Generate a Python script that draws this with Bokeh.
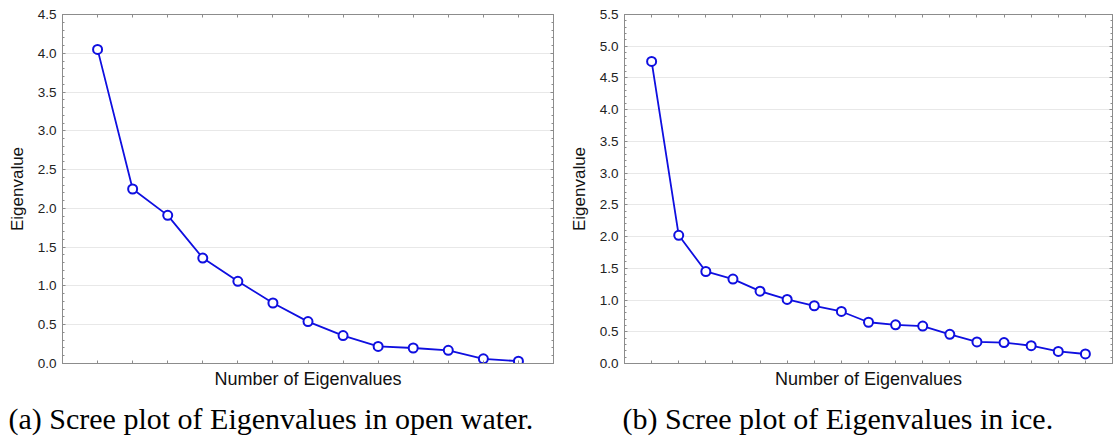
from bokeh.plotting import figure
from bokeh.layouts import row
from bokeh.models import (Range1d, FixedTicker, LinearAxis, SingleIntervalTicker,
                          NumeralTickFormatter, CustomJSTickFormatter)
from bokeh.embed import file_html
from bokeh.resources import INLINE

# Data
open_water = [4.05, 2.25, 1.91, 1.36, 1.06, 0.78, 0.54, 0.36, 0.22, 0.20, 0.17, 0.06, 0.03]
ice = [4.76, 2.02, 1.45, 1.33, 1.14, 1.01, 0.91, 0.82, 0.65, 0.61, 0.59, 0.46, 0.34, 0.33, 0.28, 0.19, 0.15]
y_max_open = 4.5
y_max_ice = 5.5
captions = ["(a) Scree plot of Eigenvalues in open water.", "(b) Scree plot of Eigenvalues in ice."]
x_label = "Number of Eigenvalues"
y_label = "Eigenvalue"

BLUE = "#0f0fe0"
GRAY = "#8c8c8c"
SANS = "Liberation Sans"


def hide_labels(axis):
    axis.formatter = CustomJSTickFormatter(code="return ''")
    axis.major_label_text_font_size = "0px"
    axis.major_label_text_color = None
    axis.major_label_standoff = 0


def make(values, ymax, caption, width, bl, br, cap_offset):
    n = len(values)
    xs = list(range(1, n + 1))
    p = figure(width=width, height=443, output_backend="svg", toolbar_location=None,
               x_range=Range1d(0, n + 1), y_range=Range1d(0, ymax),
               min_border_left=bl, min_border_right=br, min_border_top=14, min_border_bottom=80,
               title=caption, title_location="below")
    p.title.text_font = "Liberation Serif"
    p.title.text_font_size = "30px"
    p.title.text_font_style = "normal"
    p.title.align = "left"
    p.title.offset = cap_offset
    p.title.text_color = "black"
    p.title.standoff = 16
    p.outline_line_color = GRAY
    p.xgrid.visible = False
    p.ygrid.grid_line_color = "#e8e8e8"
    p.ygrid.ticker = SingleIntervalTicker(interval=0.5, num_minor_ticks=5)

    xa = p.xaxis[0]
    xa.ticker = FixedTicker(ticks=xs)
    hide_labels(xa)
    xa.major_tick_in = 3
    xa.major_tick_out = 0
    xa.minor_tick_in = 0
    xa.minor_tick_out = 0
    xa.axis_line_color = GRAY
    xa.major_tick_line_color = GRAY
    xa.axis_label = x_label
    xa.axis_label_text_font = SANS
    xa.axis_label_text_font_size = "18px"
    xa.axis_label_text_font_style = "normal"
    xa.axis_label_text_color = "#111111"
    xa.axis_label_standoff = 5

    ya = p.yaxis[0]
    ya.ticker = SingleIntervalTicker(interval=0.5, num_minor_ticks=5)
    ya.formatter = NumeralTickFormatter(format="0.0")
    ya.major_label_text_font = SANS
    ya.major_label_text_font_size = "13.5px"
    ya.major_label_text_color = "#222222"
    ya.major_label_standoff = 6
    ya.major_tick_in = 3
    ya.major_tick_out = 0
    ya.minor_tick_in = 2
    ya.minor_tick_out = 0
    ya.axis_line_color = GRAY
    ya.major_tick_line_color = GRAY
    ya.minor_tick_line_color = GRAY
    ya.axis_label = y_label
    ya.axis_label_text_font = SANS
    ya.axis_label_text_font_size = "17px"
    ya.axis_label_text_font_style = "normal"
    ya.axis_label_text_color = "#111111"
    ya.axis_label_standoff = 8

    top = LinearAxis(ticker=FixedTicker(ticks=xs),
                     major_tick_in=3, major_tick_out=0, minor_tick_in=0, minor_tick_out=0,
                     axis_line_color=GRAY, major_tick_line_color=GRAY)
    hide_labels(top)
    p.add_layout(top, "above")
    right = LinearAxis(ticker=SingleIntervalTicker(interval=0.5, num_minor_ticks=5),
                       major_tick_in=3, major_tick_out=0, minor_tick_in=2, minor_tick_out=0,
                       axis_line_color=GRAY, major_tick_line_color=GRAY, minor_tick_line_color=GRAY)
    hide_labels(right)
    p.add_layout(right, "right")

    p.line(xs, values, line_color=BLUE, line_width=1.8)
    p.scatter(xs, values, size=9, marker="circle", line_color=BLUE, line_width=2,
              fill_color="white")
    return p


p1 = make(open_water, y_max_open, captions[0], 557, 62, 4, -54)
p2 = make(ice, y_max_ice, captions[1], 557, 67, 2, -2)

layout = row(p1, p2)
open("out.html", "w").write(file_html(layout, INLINE))
